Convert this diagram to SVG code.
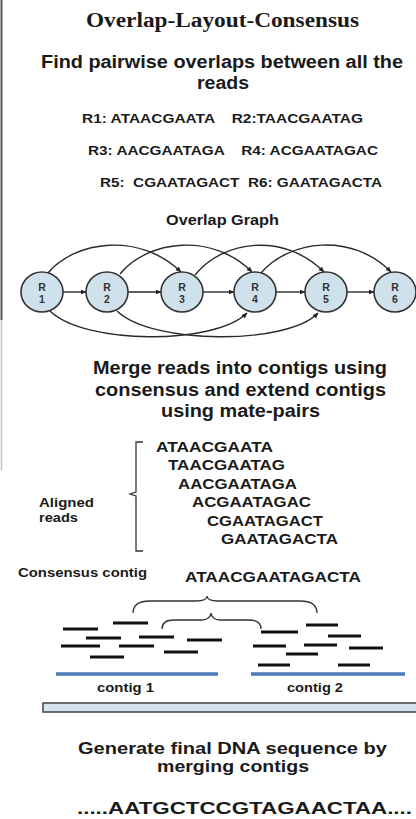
<svg xmlns="http://www.w3.org/2000/svg" width="416" height="819" viewBox="0 0 416 819">
<defs>
<marker id="arr" viewBox="0 0 10 10" refX="9" refY="5" markerWidth="6" markerHeight="6" orient="auto" markerUnits="userSpaceOnUse">
<path d="M0,1 L10,5 L0,9 Z" fill="#222"/>
</marker>
<style>
.t{font-family:"Liberation Sans",Arial,sans-serif;font-weight:bold;fill:#1a1a1a}
.title{font-family:"Liberation Serif","Times New Roman",serif;font-weight:bold;fill:#1a1a1a;font-size:20px}
.h{font-size:18px}
.m{font-size:13px}
.s{font-size:12px}
.nl{font-family:"Liberation Sans",Arial,sans-serif;font-weight:bold;font-size:10.5px;fill:#333;text-anchor:middle}
.node{fill:#cfe2ec;stroke:#333;stroke-width:1.6}
.edge{fill:none;stroke:#2a2a2a;stroke-width:1.4}
.rd{stroke:#111;stroke-width:3;stroke-linecap:butt}
.blue{stroke:#4a7ab8;stroke-width:3.5}
.br{fill:none;stroke:#333;stroke-width:1.3}
</style>
</defs>
<rect width="416" height="819" fill="#ffffff"/>
<line x1="1.5" y1="0" x2="1.5" y2="320" stroke="#555" stroke-width="2"/>
<line x1="1.5" y1="320" x2="1.5" y2="470" stroke="#c4c4c4" stroke-width="1.5"/>

<text class="title" x="86" y="27" textLength="273" lengthAdjust="spacingAndGlyphs">Overlap-Layout-Consensus</text>
<text class="t h" x="41" y="68" textLength="362" lengthAdjust="spacingAndGlyphs">Find pairwise overlaps between all the</text>
<text class="t h" x="197" y="89" textLength="52" lengthAdjust="spacingAndGlyphs">reads</text>
<text class="t m" x="82" y="123" textLength="281" lengthAdjust="spacingAndGlyphs" xml:space="preserve">R1: ATAACGAATA    R2:TAACGAATAG</text>
<text class="t m" x="88" y="155" textLength="290" lengthAdjust="spacingAndGlyphs" xml:space="preserve">R3: AACGAATAGA    R4: ACGAATAGAC</text>
<text class="t m" x="100" y="187" textLength="282" lengthAdjust="spacingAndGlyphs" xml:space="preserve">R5:  CGAATAGACT  R6: GAATAGACTA</text>
<text class="t" font-size="14" x="166" y="225" textLength="113" lengthAdjust="spacingAndGlyphs">Overlap Graph</text>

<g id="connectors">
<line class="edge" x1="63" y1="292" x2="86" y2="292" marker-end="url(#arr)"/>
<line class="edge" x1="128" y1="292" x2="161" y2="292" marker-end="url(#arr)"/>
<line class="edge" x1="203" y1="292" x2="234" y2="292" marker-end="url(#arr)"/>
<line class="edge" x1="276" y1="292" x2="305" y2="292" marker-end="url(#arr)"/>
<line class="edge" x1="347" y1="292" x2="374" y2="292" marker-end="url(#arr)"/>
<path class="edge" d="M47,274 C75,240 140,232 181,272" marker-end="url(#arr)"/>
<path class="edge" d="M120,274 C148,240 212,232 252,272" marker-end="url(#arr)"/>
<path class="edge" d="M195,275 C223,240 284,232 324,272" marker-end="url(#arr)"/>
<path class="edge" d="M261,273 C289,240 352,232 391,272" marker-end="url(#arr)"/>
<path class="edge" d="M50,311 C85,345 215,345 247,313" marker-end="url(#arr)"/>
<path class="edge" d="M117,311 C152,345 288,345 318,313" marker-end="url(#arr)"/>
</g>

<g id="R1"><ellipse class="node" cx="42" cy="292" rx="21" ry="20"/><text class="nl" x="42" y="291">R</text><text class="nl" x="42" y="303">1</text></g>
<g id="R2"><ellipse class="node" cx="107" cy="292" rx="21" ry="20"/><text class="nl" x="107" y="291">R</text><text class="nl" x="107" y="303">2</text></g>
<g id="R3"><ellipse class="node" cx="182" cy="292" rx="21" ry="20"/><text class="nl" x="182" y="291">R</text><text class="nl" x="182" y="303">3</text></g>
<g id="R4"><ellipse class="node" cx="255" cy="292" rx="21" ry="20"/><text class="nl" x="255" y="291">R</text><text class="nl" x="255" y="303">4</text></g>
<g id="R5"><ellipse class="node" cx="326" cy="292" rx="21" ry="20"/><text class="nl" x="326" y="291">R</text><text class="nl" x="326" y="303">5</text></g>
<g id="R6"><ellipse class="node" cx="395" cy="292" rx="21" ry="20"/><text class="nl" x="395" y="291">R</text><text class="nl" x="395" y="303">6</text></g>

<text class="t" font-size="17.5" x="93" y="374" textLength="294" lengthAdjust="spacingAndGlyphs">Merge reads into contigs using</text>
<text class="t" font-size="17.5" x="95" y="396" textLength="291" lengthAdjust="spacingAndGlyphs">consensus and extend contigs</text>
<text class="t" font-size="17.5" x="161" y="417" textLength="159" lengthAdjust="spacingAndGlyphs">using mate-pairs</text>

<path class="br" d="M143,442 L136,442 L136,492 L130,494 L136,496 L136,551 L143,551"/>
<text class="t" font-size="14" x="156" y="452" textLength="117" lengthAdjust="spacingAndGlyphs">ATAACGAATA</text>
<text class="t" font-size="14" x="168" y="470" textLength="117" lengthAdjust="spacingAndGlyphs">TAACGAATAG</text>
<text class="t" font-size="14" x="178" y="489" textLength="119" lengthAdjust="spacingAndGlyphs">AACGAATAGA</text>
<text class="t" font-size="14" x="192" y="507" textLength="119" lengthAdjust="spacingAndGlyphs">ACGAATAGAC</text>
<text class="t" font-size="14" x="207" y="526" textLength="116" lengthAdjust="spacingAndGlyphs">CGAATAGACT</text>
<text class="t" font-size="14" x="221" y="544" textLength="117" lengthAdjust="spacingAndGlyphs">GAATAGACTA</text>
<text class="t s" x="39" y="507" textLength="55" lengthAdjust="spacingAndGlyphs">Aligned</text>
<text class="t s" x="39" y="522" textLength="39" lengthAdjust="spacingAndGlyphs">reads</text>

<text class="t" font-size="12.5" x="18" y="577" textLength="129" lengthAdjust="spacingAndGlyphs">Consensus contig</text>
<text class="t" font-size="15" x="185" y="582" textLength="176" lengthAdjust="spacingAndGlyphs">ATAACGAATAGACTA</text>

<path class="br" d="M133,613 C133,604 140,601 150,601 L196,601 C203,601 207,599 207,596 C207,599 211,601 218,601 L300,601 C310,601 317,604 317,613"/>
<path class="br" d="M162,629 C162,622 167,620 174,620 L202,620 C207,620 211,617 211,613 C211,617 215,620 220,620 L249,620 C256,620 261,622 261,629"/>

<g id="reads">
<line class="rd" x1="63" y1="629" x2="98" y2="629"/>
<line class="rd" x1="113" y1="623" x2="148" y2="623"/>
<line class="rd" x1="86" y1="638" x2="121" y2="638"/>
<line class="rd" x1="139" y1="637" x2="174" y2="637"/>
<line class="rd" x1="187" y1="640" x2="222" y2="640"/>
<line class="rd" x1="61" y1="646" x2="100" y2="646"/>
<line class="rd" x1="119" y1="646" x2="154" y2="646"/>
<line class="rd" x1="164" y1="652" x2="198" y2="652"/>
<line class="rd" x1="90" y1="657" x2="124" y2="657"/>
<line class="rd" x1="261" y1="632" x2="298" y2="632"/>
<line class="rd" x1="306" y1="625" x2="338" y2="625"/>
<line class="rd" x1="328" y1="636" x2="361" y2="636"/>
<line class="rd" x1="253" y1="646" x2="286" y2="646"/>
<line class="rd" x1="304" y1="645" x2="337" y2="645"/>
<line class="rd" x1="349" y1="648" x2="383" y2="648"/>
<line class="rd" x1="286" y1="654" x2="318" y2="654"/>
<line class="rd" x1="258" y1="665" x2="290" y2="665"/>
<line class="rd" x1="338" y1="665" x2="370" y2="665"/>
</g>
<line class="blue" x1="56" y1="674" x2="218" y2="674"/>
<line class="blue" x1="251" y1="674" x2="405" y2="674"/>
<text class="t m" x="97" y="692" textLength="57" lengthAdjust="spacingAndGlyphs">contig 1</text>
<text class="t m" x="287" y="692" textLength="56" lengthAdjust="spacingAndGlyphs">contig 2</text>

<rect x="43" y="703" width="380" height="9" fill="#d3e4ee" stroke="#444" stroke-width="1.5"/>

<text class="t" font-size="17" x="78" y="754" textLength="309" lengthAdjust="spacingAndGlyphs">Generate final DNA sequence by</text>
<text class="t" font-size="17" x="157" y="772" textLength="152" lengthAdjust="spacingAndGlyphs">merging contigs</text>
<text class="t" font-size="16.5" x="77" y="814" textLength="335" lengthAdjust="spacingAndGlyphs">.....AATGCTCCGTAGAACTAA....</text>
</svg>
